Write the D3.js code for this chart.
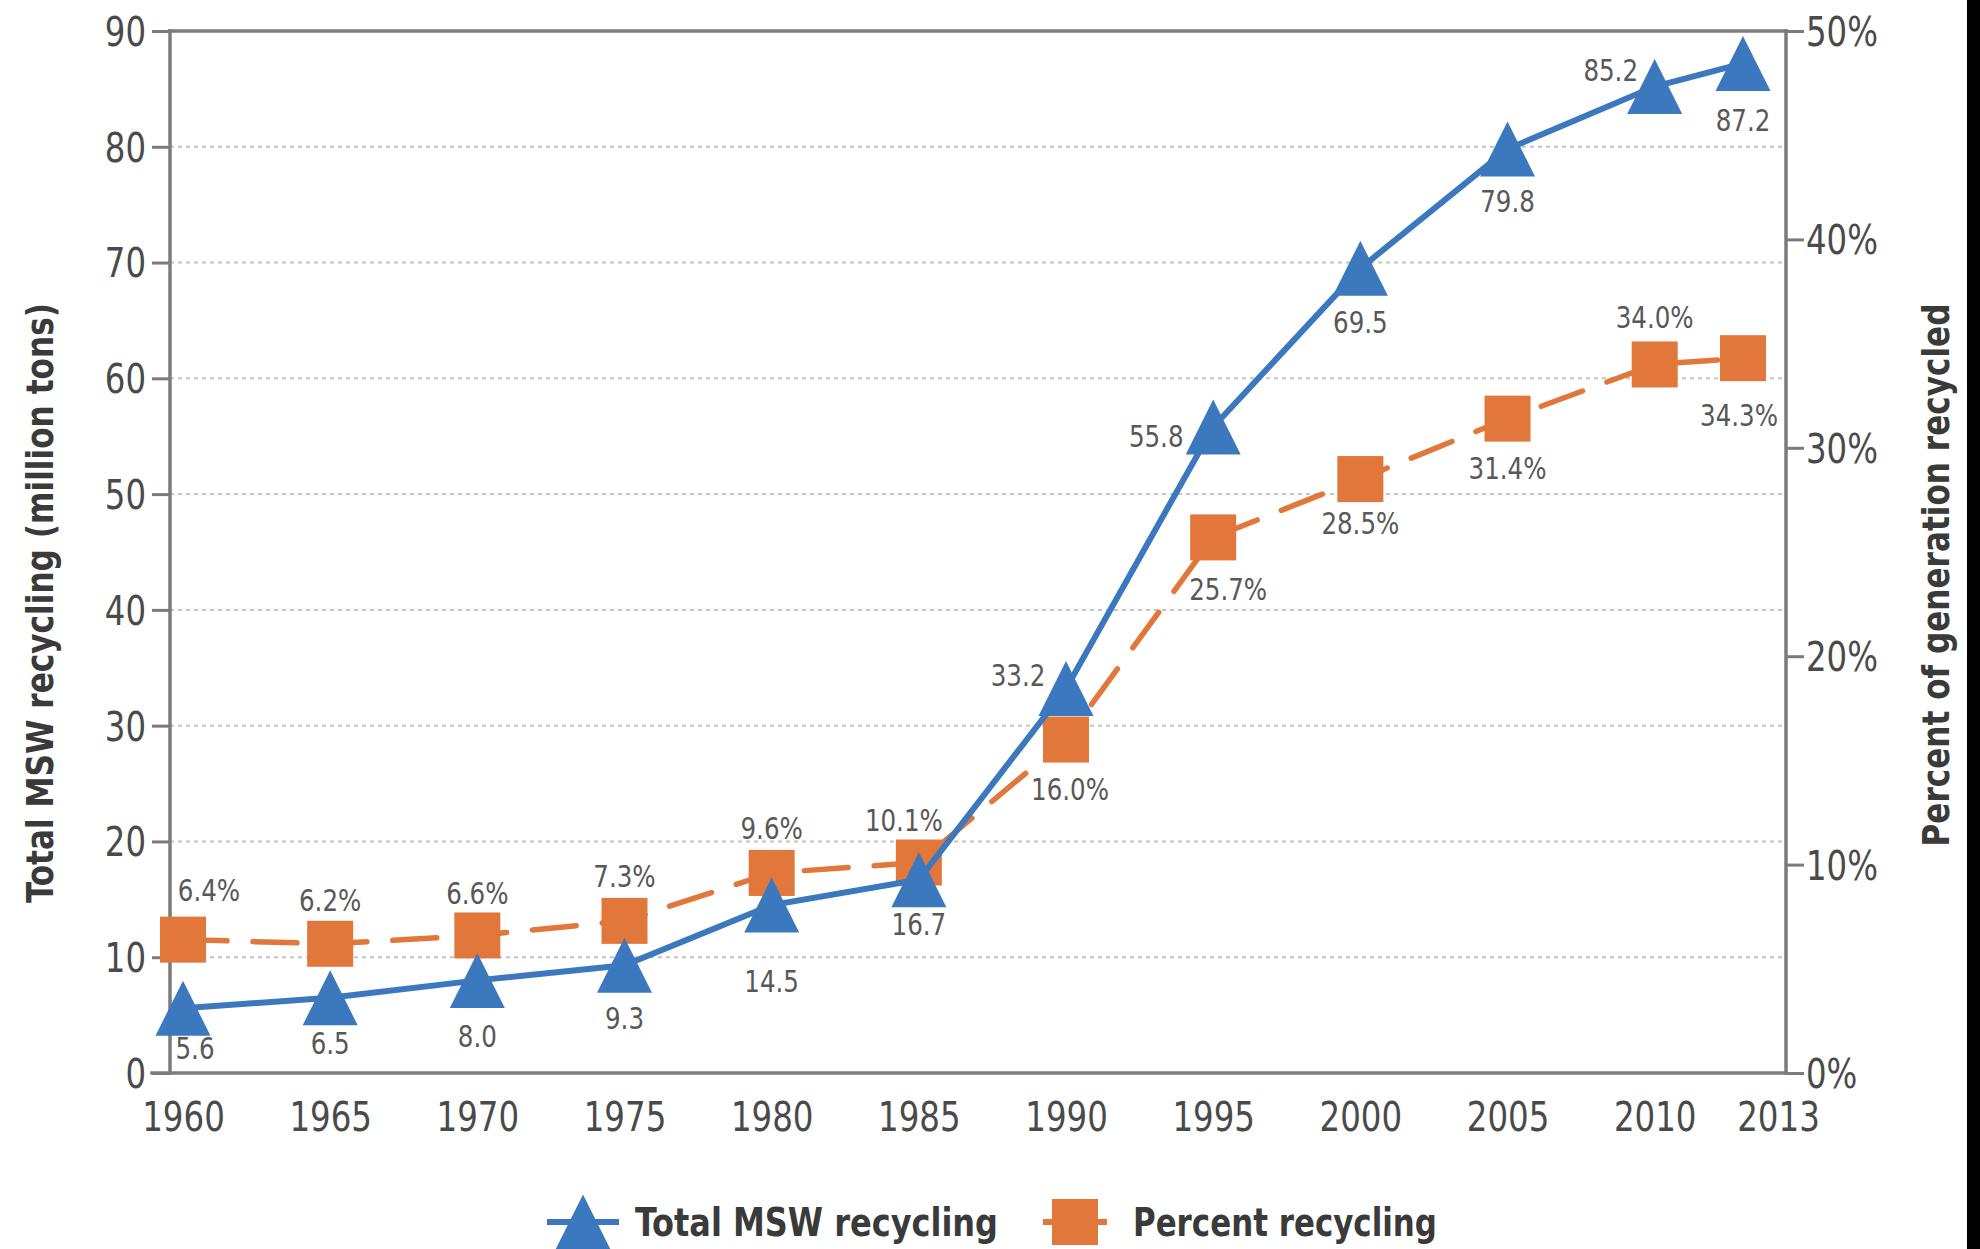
<!DOCTYPE html>
<html>
<head>
<meta charset="utf-8">
<script src="https://cdn.jsdelivr.net/npm/d3@7"></script>
<style>
  html, body { margin: 0; padding: 0; background: #fff; }
  svg { display: block; }
  text { font-family: "Liberation Sans Narrow", "DejaVu Sans Condensed", "Noto Sans", sans-serif; }
</style>
</head>
<body>
<svg id="chart" width="1980" height="1249"></svg>
<script>
// Municipal solid waste recycling, 1960–2013
const years = [1960, 1965, 1970, 1975, 1980, 1985, 1990, 1995, 2000, 2005, 2010, 2013];
const totalRecycling = [5.6, 6.5, 8.0, 9.3, 14.5, 16.7, 33.2, 55.8, 69.5, 79.8, 85.2, 87.2]; // million tons
const percentRecycling = [6.4, 6.2, 6.6, 7.3, 9.6, 10.1, 16.0, 25.7, 28.5, 31.4, 34.0, 34.3]; // percent of generation

const leftTicks = [0, 10, 20, 30, 40, 50, 60, 70, 80, 90];
const rightTicks = [0, 10, 20, 30, 40, 50];

// label nudges (dx, dy) relative to each marker
const totalLabelNudge = [[12, 40], [0, 46], [0, 56], [0, 53], [0, 76], [0, 45], [-48, -13], [-57, 9], [0, 54], [0, 52], [-44, -16], [0, 57]];
const percentLabelNudge = [[26, -49], [0, -43], [0, -42], [0, -44], [0, -45], [-15, -42], [4, 50], [15, 52], [0, 44], [0, 50], [0, -47], [-4, 57]];

const BLUE = "#3b78be";
const ORANGE = "#e1773b";
const AXIS = "#7b7b7b";
const TEXT = "#4a4a4a";

const svg = d3.select("#chart");

// black strip along the right edge
svg.append("rect").attr("x", 1967).attr("y", 0).attr("width", 13).attr("height", 1249).attr("fill", "#000");

const frame = { left: 170, right: 1786, top: 31, bottom: 1073 };

const x = d3.scaleLinear().domain([1960, 2013]).range([183, 1743]);
const yL = d3.scaleLinear().domain([0, 90]).range([frame.bottom, frame.top]);
const yR = d3.scaleLinear().domain([0, 50]).range([frame.bottom, frame.top]);

// narrow the fallback face horizontally so the condensed look holds
const squeeze = (sel, k) => sel.each(function () {
  const t = d3.select(this);
  const x0 = +t.attr("x") || 0;
  t.attr("transform", `translate(${x0 * (1 - k)},0) scale(${k},1)` + (t.attr("transform") ? " " + t.attr("transform") : ""));
});

// dotted gridlines
svg.append("g").selectAll("line")
  .data(leftTicks.filter(t => t > 0 && t < 90))
  .join("line")
  .attr("x1", frame.left).attr("x2", frame.right)
  .attr("y1", d => yL(d)).attr("y2", d => yL(d))
  .attr("stroke", "#c4c4c4").attr("stroke-width", 2).attr("stroke-dasharray", "4,4");

// left axis
const leftAxis = d3.axisLeft(yL).tickValues(leftTicks).tickSize(18).tickPadding(6).tickFormat(d3.format("d"));
const gL = svg.append("g").attr("transform", `translate(${frame.left},0)`).call(leftAxis);
// right axis
const rightAxis = d3.axisRight(yR).tickValues(rightTicks).tickSize(18).tickPadding(2).tickFormat(d => d + "%");
const gR = svg.append("g").attr("transform", `translate(${frame.right},0)`).call(rightAxis);

[gL, gR].forEach(g => {
  g.select(".domain").remove();
  g.selectAll(".tick line").attr("stroke", AXIS).attr("stroke-width", 3);
  g.selectAll(".tick text").attr("fill", TEXT).attr("font-size", 40).attr("dy", "0.36em");
});
squeeze(gL.selectAll(".tick text"), 0.9);
squeeze(gR.selectAll(".tick text"), 0.9);

// frame lines
const frameLines = [
  [frame.left, frame.top, frame.right, frame.top],
  [frame.left, frame.top, frame.left, frame.bottom],
  [frame.right, frame.top, frame.right, frame.bottom],
  [frame.left - 18, frame.bottom, frame.right, frame.bottom]
];
svg.append("g").selectAll("line").data(frameLines).join("line")
  .attr("x1", d => d[0]).attr("y1", d => d[1]).attr("x2", d => d[2]).attr("y2", d => d[3])
  .attr("stroke", AXIS).attr("stroke-width", 3.5).attr("stroke-linecap", "square");

// bottom axis labels
const bottomAxis = d3.axisBottom(x).tickValues(years).tickSize(0).tickPadding(29).tickFormat(d3.format("d"));
const gB = svg.append("g").attr("transform", `translate(0,${frame.bottom})`).call(bottomAxis);
gB.select(".domain").remove();
gB.selectAll(".tick text").attr("fill", TEXT).attr("font-size", 41)
  .attr("x", d => d === 2013 ? 35 : 0);
squeeze(gB.selectAll(".tick text"), 0.88);

// axis titles
svg.append("text")
  .attr("transform", `translate(40,603) rotate(-90)`)
  .attr("text-anchor", "middle").attr("dominant-baseline", "central")
  .attr("font-size", 38).attr("font-weight", "bold").attr("fill", "#3a3a3a")
  .attr("textLength", 600).attr("lengthAdjust", "spacingAndGlyphs")
  .text("Total MSW recycling (million tons)");
svg.append("text")
  .attr("transform", `translate(1936,575) rotate(-90)`)
  .attr("text-anchor", "middle").attr("dominant-baseline", "central")
  .attr("font-size", 38).attr("font-weight", "bold").attr("fill", "#3a3a3a")
  .attr("textLength", 543).attr("lengthAdjust", "spacingAndGlyphs")
  .text("Percent of generation recycled");

const totalData = years.map((yr, i) => ({ yr, v: totalRecycling[i], n: totalLabelNudge[i] }));
const percentData = years.map((yr, i) => ({ yr, v: percentRecycling[i], n: percentLabelNudge[i] }));

// percent series (dashed)
svg.append("path").datum(percentData)
  .attr("d", d3.line().x(d => x(d.yr)).y(d => yR(d.v)))
  .attr("fill", "none").attr("stroke", ORANGE).attr("stroke-width", 5.5)
  .attr("stroke-dasharray", "44,26").attr("stroke-linecap", "round");

const SQ = 46;
svg.append("g").selectAll("rect").data(percentData).join("rect")
  .attr("x", d => x(d.yr) - SQ / 2).attr("y", d => yR(d.v) - SQ / 2)
  .attr("width", SQ).attr("height", SQ).attr("fill", ORANGE);

// total series (solid)
svg.append("path").datum(totalData)
  .attr("d", d3.line().x(d => x(d.yr)).y(d => yL(d.v)))
  .attr("fill", "none").attr("stroke", BLUE).attr("stroke-width", 6);

const TW = 55, TH = 55;
const tri = `M0,${-TH / 2}L${TW / 2},${TH / 2}L${-TW / 2},${TH / 2}Z`;
svg.append("g").selectAll("path").data(totalData).join("path")
  .attr("transform", d => `translate(${x(d.yr)},${yL(d.v)})`)
  .attr("d", tri).attr("fill", BLUE);

// value labels
const lblTotal = svg.append("g").selectAll("text").data(totalData).join("text")
  .attr("x", d => x(d.yr) + d.n[0]).attr("y", d => yL(d.v) + d.n[1])
  .attr("text-anchor", "middle").attr("dominant-baseline", "central")
  .attr("font-size", 31).attr("fill", "#585858")
  .text(d => d.v.toFixed(1));
const lblPct = svg.append("g").selectAll("text").data(percentData).join("text")
  .attr("x", d => x(d.yr) + d.n[0]).attr("y", d => yR(d.v) + d.n[1])
  .attr("text-anchor", "middle").attr("dominant-baseline", "central")
  .attr("font-size", 31).attr("fill", "#585858")
  .text(d => d.v.toFixed(1) + "%");
squeeze(lblTotal, 0.88);
squeeze(lblPct, 0.88);

// legend
const legend = svg.append("g").attr("transform", "translate(0,1222)");
legend.append("line").attr("x1", 547).attr("x2", 619).attr("stroke", BLUE).attr("stroke-width", 6);
legend.append("path").attr("transform", "translate(583,0)").attr("d", tri).attr("fill", BLUE);
legend.append("text").attr("x", 635).attr("dominant-baseline", "central")
  .attr("font-size", 39).attr("font-weight", "bold").attr("fill", "#3a3a3a")
  .attr("textLength", 363).attr("lengthAdjust", "spacingAndGlyphs").text("Total MSW recycling");
legend.append("line").attr("x1", 1043).attr("x2", 1107).attr("stroke", ORANGE).attr("stroke-width", 6);
legend.append("rect").attr("x", 1075 - SQ / 2).attr("y", -SQ / 2).attr("width", SQ).attr("height", SQ).attr("fill", ORANGE);
legend.append("text").attr("x", 1133).attr("dominant-baseline", "central")
  .attr("font-size", 39).attr("font-weight", "bold").attr("fill", "#3a3a3a")
  .attr("textLength", 304).attr("lengthAdjust", "spacingAndGlyphs").text("Percent recycling");
</script>
</body>
</html>
